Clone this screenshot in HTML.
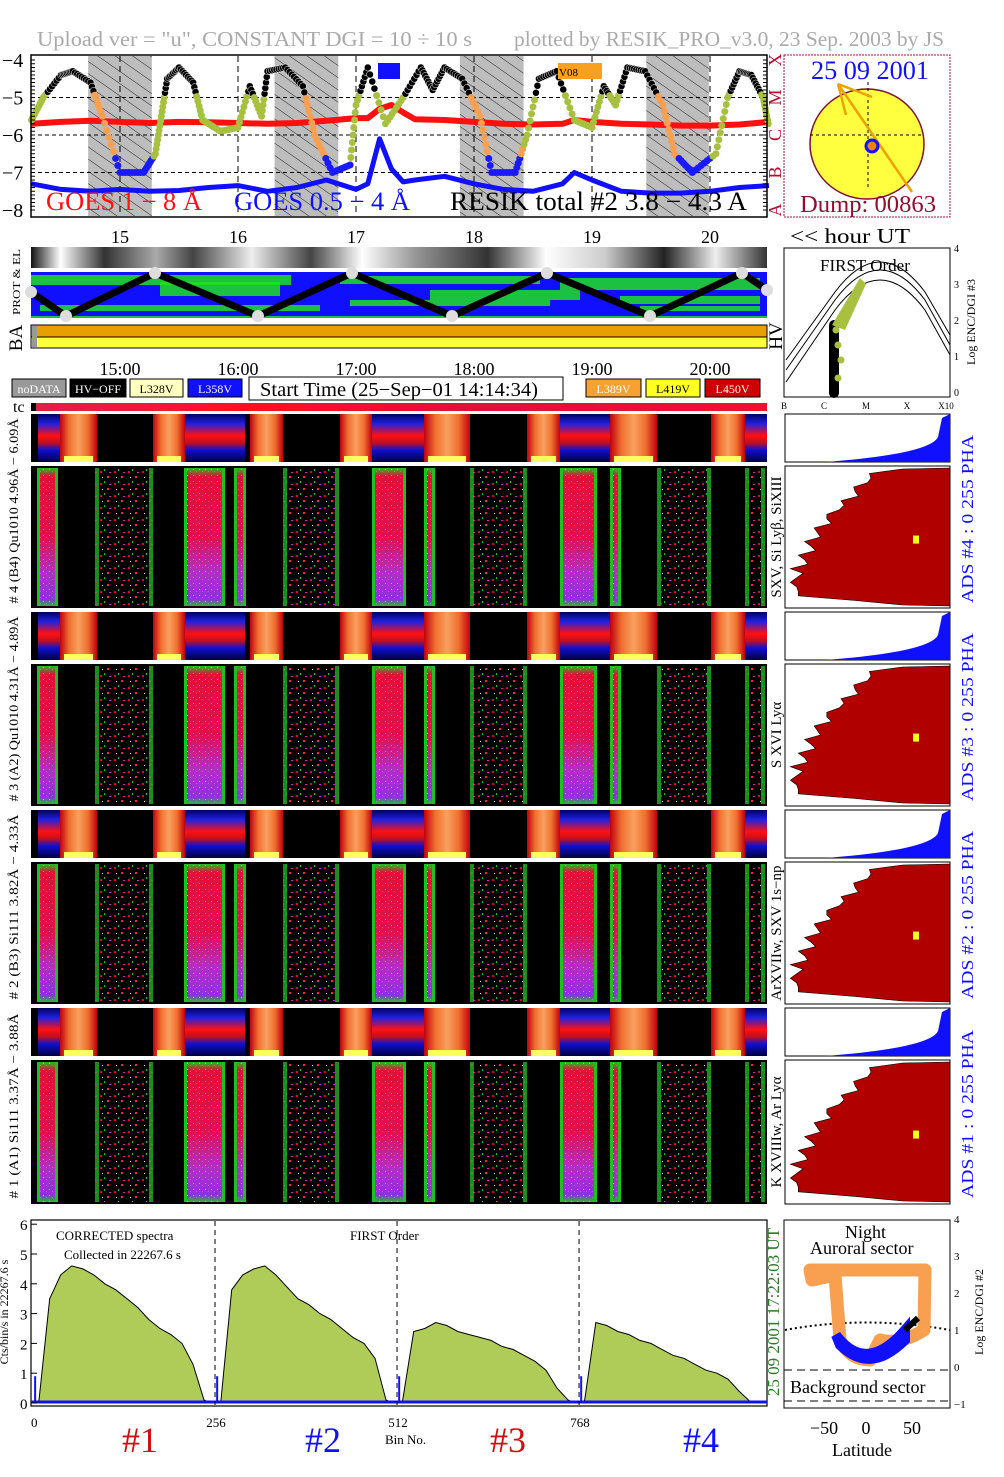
<!DOCTYPE html>
<html><head><meta charset="utf-8">
<style>
html,body{margin:0;padding:0;background:#fff;}
svg{display:block;font-family:"Liberation Serif",serif;}
</style></head>
<body>
<svg id="s" width="1004" height="1477" viewBox="0 0 1004 1477" xmlns="http://www.w3.org/2000/svg">
<defs>
<pattern id="hatch" width="10" height="10" patternUnits="userSpaceOnUse" patternTransform="rotate(-55)">
<rect width="10" height="10" fill="#bdbdbd"/><line x1="0" y1="0" x2="0" y2="10" stroke="#222" stroke-width="1"/></pattern>
<pattern id="sparse" width="14" height="12" patternUnits="userSpaceOnUse">
<rect width="14" height="12" fill="#000"/><rect x="2" y="3" width="2" height="2" fill="#e00030"/><rect x="9" y="8" width="2" height="2" fill="#ff2040"/><rect x="6" y="1" width="1" height="2" fill="#20c020"/><rect x="11" y="4" width="2" height="1" fill="#d020d0"/><rect x="4" y="9" width="1" height="1" fill="#fff"/></pattern>
<pattern id="dots" width="6" height="6" patternUnits="userSpaceOnUse">
<rect x="1" y="1" width="1" height="1" fill="#ff80ff"/><rect x="4" y="3" width="1" height="1" fill="#30ff30" opacity="0.5"/></pattern>
<linearGradient id="dense" x1="0" y1="0" x2="0" y2="1">
<stop offset="0" stop-color="#20c020"/><stop offset="0.06" stop-color="#e0103a"/><stop offset="0.5" stop-color="#e01050"/><stop offset="0.75" stop-color="#b030c0"/><stop offset="0.95" stop-color="#9030e0"/><stop offset="1" stop-color="#20c020"/></linearGradient>
<linearGradient id="orng" x1="0" y1="0" x2="1" y2="0">
<stop offset="0" stop-color="#c00010"/><stop offset="0.25" stop-color="#f07030"/><stop offset="0.5" stop-color="#f8a060"/><stop offset="0.75" stop-color="#f07030"/><stop offset="1" stop-color="#c00010"/></linearGradient>
<linearGradient id="rbg" x1="0" y1="0" x2="0" y2="1">
<stop offset="0" stop-color="#000060"/><stop offset="0.2" stop-color="#2020e0"/><stop offset="0.45" stop-color="#ff1010"/><stop offset="0.6" stop-color="#c01020"/><stop offset="0.75" stop-color="#1010d0"/><stop offset="1" stop-color="#000040"/></linearGradient>
<linearGradient id="grayband" x1="0" y1="0" x2="1" y2="0">
<stop offset="0" stop-color="#111"/><stop offset="0.04" stop-color="#fff"/><stop offset="0.1" stop-color="#333"/><stop offset="0.17" stop-color="#aaa"/><stop offset="0.22" stop-color="#444"/><stop offset="0.3" stop-color="#eee"/><stop offset="0.38" stop-color="#444"/><stop offset="0.45" stop-color="#fff"/><stop offset="0.52" stop-color="#999"/><stop offset="0.62" stop-color="#333"/><stop offset="0.7" stop-color="#fff"/><stop offset="0.78" stop-color="#ccc"/><stop offset="0.86" stop-color="#222"/><stop offset="0.93" stop-color="#eee"/><stop offset="1" stop-color="#333"/></linearGradient>
<linearGradient id="tcg" x1="0" y1="0" x2="1" y2="0">
<stop offset="0" stop-color="#e0204a"/><stop offset="0.3" stop-color="#ff1020"/><stop offset="0.6" stop-color="#e0103a"/><stop offset="1" stop-color="#f01030"/></linearGradient>
</defs>
<g id="root"></g>
</svg>
<script>
// ---- GOES data (log flux) ----
const goesTimes=[14.25,14.5,14.75,15,15.25,15.5,15.75,16,16.25,16.5,16.75,17,17.1,17.2,17.3,17.4,17.5,17.75,18,18.25,18.5,18.75,18.85,19,19.25,19.5,19.75,20,20.25,20.5];
const goesLong=[-5.7,-5.65,-5.62,-5.65,-5.68,-5.65,-5.66,-5.68,-5.7,-5.68,-5.62,-5.55,-5.55,-5.3,-5.2,-5.4,-5.58,-5.6,-5.65,-5.7,-5.72,-5.7,-5.6,-5.65,-5.7,-5.72,-5.75,-5.75,-5.72,-5.65];
const goesShort=[-7.3,-7.45,-7.5,-7.45,-7.5,-7.48,-7.4,-7.35,-7.5,-7.4,-7.2,-7.45,-7.3,-6.1,-6.9,-7.25,-7.2,-7.1,-7.3,-7.45,-7.5,-7.3,-7.0,-7.2,-7.5,-7.55,-7.55,-7.5,-7.4,-7.35];
const resikTimes=[14.25,14.35,14.5,14.6,14.75,14.85,15.0,15.2,15.3,15.35,15.4,15.5,15.62,15.7,15.85,16.0,16.1,16.2,16.25,16.4,16.55,16.65,16.8,16.95,17.0,17.1,17.25,17.4,17.55,17.65,17.75,17.9,18.05,18.15,18.35,18.45,18.55,18.7,18.85,19.0,19.1,19.2,19.3,19.45,19.6,19.7,19.85,20.05,20.15,20.25,20.35,20.45,20.5];
const resikVals=[-5.6,-5.0,-4.4,-4.3,-4.6,-5.5,-7.0,-7.0,-6.5,-5.5,-4.5,-4.2,-4.6,-5.6,-5.9,-5.8,-4.7,-5.5,-4.3,-4.2,-4.7,-6.0,-7.0,-6.8,-5.2,-4.2,-5.7,-5.0,-4.2,-4.8,-4.2,-4.5,-5.5,-7.0,-7.0,-6.0,-4.5,-4.3,-5.6,-5.8,-4.7,-5.2,-4.2,-4.3,-5.2,-6.5,-7.0,-6.5,-5.0,-4.3,-4.4,-5.0,-5.8];
const nightBands=[[14.73,15.27],[16.31,16.85],[17.88,18.42],[19.46,19.99]];
const hourTicks=[15,16,17,18,19,20];
const logTicks=[-4,-5,-6,-7,-8];
// ---- spectrum data (cts/bin/s), sampled every 16 bins per 256-bin segment ----
const specSeg1=[0,3.5,4.3,4.6,4.5,4.3,4.0,3.8,3.5,3.2,2.8,2.5,2.3,2.0,1.3,0.1];
const specSeg2=[0,3.8,4.3,4.5,4.6,4.3,3.9,3.5,3.3,3.0,2.8,2.5,2.2,2.0,1.5,0.1];
const specSeg3=[0.1,2.4,2.5,2.7,2.6,2.4,2.3,2.2,2.1,1.9,1.8,1.6,1.4,1.1,0.5,0.1];
const specSeg4=[0.1,2.7,2.6,2.4,2.3,2.1,2.0,1.8,1.6,1.5,1.3,1.1,1.0,0.8,0.4,0.05];
const specYTicks=[0,1,2,3,4,5,6];
const binTicks=[0,256,512,768];

const NS="http://www.w3.org/2000/svg";
const root=document.getElementById('root');
function el(tag,attrs,parent,text){const e=document.createElementNS(NS,tag);for(const k in attrs)e.setAttribute(k,attrs[k]);if(text!==undefined)e.textContent=text;(parent||root).appendChild(e);return e;}
function tx(x,y,t,size,fill,name,extra){const e=el('text',Object.assign({x:x,y:y,'font-size':size,fill:fill||'#000'},extra||{}),root,t);

return e;}
function txl(x,y,t,size,fill,name,len,extra){return tx(x,y,t,size,fill,name,Object.assign({textLength:len,lengthAdjust:'spacingAndGlyphs'},extra||{}));}
function rtx(x,y,t,size,fill,name,len){const ex={transform:`rotate(-90 ${x} ${y})`,'text-anchor':'middle'};if(len){ex.textLength=len;ex.lengthAdjust='spacingAndGlyphs';}return tx(x,y,t,size,fill,name,ex);}

const hx=h=>2+(h-14)*118;
const gy=v=>60+(-4-v)*37.5;

txl(37,46,'Upload ver = "u", CONSTANT  DGI =  10 ÷  10 s',21,'#aaa','title-left',435);
txl(514,46,'plotted by RESIK_PRO_v3.0, 23 Sep. 2003 by JS',21,'#aaa','title-right',430);

const gp=el('g',{});
el('rect',{x:31,y:55,width:736,height:162,fill:'#fff'},gp);
nightBands.forEach(b=>{const r=el('rect',{x:hx(b[0]),y:56,width:hx(b[1])-hx(b[0]),height:160,fill:'url(#hatch)'},gp);

});
[-5,-6,-7].forEach(v=>el('line',{x1:31,x2:767,y1:gy(v),y2:gy(v),stroke:'#000','stroke-dasharray':'4,3'},gp));
hourTicks.forEach(h=>el('line',{x1:hx(h),x2:hx(h),y1:56,y2:216,stroke:'#000','stroke-dasharray':'6,4'},gp));
function line(times,vals,color,w,name){const pts=times.map((t,i)=>hx(t).toFixed(1)+','+gy(vals[i]).toFixed(1)).join(' ');
const p=el('polyline',{points:pts,fill:'none',stroke:color,'stroke-width':w,'stroke-linejoin':'round'},gp);

}
line(goesTimes,goesLong,'#ff1010',6,'goes-long-line');
line(goesTimes,goesShort,'#1010ff',5,'goes-short-line');
function inNight(t){return nightBands.some(b=>t>=b[0]&&t<=b[1]);}
for(let i=0;i<resikTimes.length-1;i++){
 for(let k=0;k<8;k++){const f=k/8;const t=resikTimes[i]+(resikTimes[i+1]-resikTimes[i])*f;const v=resikVals[i]+(resikVals[i+1]-resikVals[i])*f;
 let c='#000';if(v<-6.6)c='#1a1aff';else if(v<-4.9)c=inNight(t)?'#f8a050':'#a8c040';
 const d=el('circle',{cx:hx(t),cy:gy(v),r:3.5,fill:c,stroke:c==='#000'?'#fff':'none','stroke-width':0.5},gp);
 
 }}
el('rect',{x:31,y:55,width:736,height:162,fill:'none',stroke:'#000','stroke-width':1.5},gp);
el('rect',{x:378,y:63,width:22,height:16,fill:'#1010ff'},gp);
el('rect',{x:558,y:63,width:44,height:16,fill:'#f8a020'},gp);
tx(559,76,'V08',11,'#000','v08-label');
logTicks.forEach(v=>tx(2,gy(v)+7,String(v).replace('-','−'),20,'#000','goes-ytick'));
for(let v=-4;v>=-8;v-=0.1){el('line',{x1:31,x2:35,y1:gy(v),y2:gy(v),stroke:'#000'},gp);el('line',{x1:763,x2:767,y1:gy(v),y2:gy(v),stroke:'#000'},gp);}
[['X',-4],['M',-5],['C',-6],['B',-7],['A',-8]].forEach(a=>rtx(781,gy(a[1]),a[0],18,'#b01030','flare-class-label'));
txl(46,210,'GOES 1 − 8 Å',26,'#ff1010','goes-long-legend',156);
txl(234,210,'GOES 0.5 − 4 Å',26,'#1010ff','goes-short-legend',176);
txl(450,210,'RESIK total #2  3.8 − 4.3 A',26,'#000','resik-legend',297);

el('rect',{x:784,y:55,width:166,height:162,fill:'#fff',stroke:'#a01040','stroke-dasharray':'2,1'});
el('ellipse',{cx:867,cy:144,rx:57,ry:55,fill:'#ffff40',stroke:'#801030','stroke-width':1.5});
el('line',{x1:810,x2:924,y1:135,y2:135,stroke:'#000','stroke-dasharray':'3,3'});
el('line',{x1:868,x2:868,y1:82,y2:190,stroke:'#000','stroke-dasharray':'3,3'});
el('line',{x1:838,x2:912,y1:84,y2:192,stroke:'#f0a000','stroke-width':2.5});
el('line',{x1:838,x2:872,y1:84,y2:97,stroke:'#f0a000','stroke-width':2.5});
el('line',{x1:838,x2:846,y1:84,y2:115,stroke:'#f0a000','stroke-width':2.5});
el('circle',{cx:872,cy:146,r:6,fill:'#f08000',stroke:'#1010ff','stroke-width':3});
txl(811,79,'25 09 2001',26,'#1010ff','date-label',118);
txl(800,212,'Dump: 00863',24,'#901030','dump-label',136);

hourTicks.forEach(h=>tx(hx(h),243,String(h),18,'#000','hour-tick',{'text-anchor':'middle'}));
txl(790,243,'<< hour UT',21,'#000','hour-ut-label',120);

el('rect',{x:31,y:247,width:736,height:21,fill:'url(#grayband)'});
el('rect',{x:31,y:272,width:736,height:46,fill:'#1010ff'});
[[31,275,260,10],[160,282,120,14],[340,276,200,8],[430,290,150,10],[560,278,200,12],[620,296,140,8],[40,305,280,6],[350,300,200,6],[640,306,120,5],[31,316,736,2]].forEach(g=>el('rect',{x:g[0],y:g[1],width:g[2],height:g[3],fill:'#20e020',opacity:0.85}));
const zz=[[31,292],[66,316],[155,273],[258,316],[352,273],[452,316],[547,273],[650,316],[742,273],[767,290]];
el('polyline',{points:zz.map(p=>p.join(',')).join(' '),fill:'none',stroke:'#000','stroke-width':7});
zz.forEach(p=>el('circle',{cx:p[0],cy:p[1],r:6,fill:'#ddd'}));
el('rect',{x:31,y:325,width:736,height:12,fill:'#e8a000',stroke:'#000'});
el('rect',{x:31,y:337,width:736,height:11,fill:'#ffff40',stroke:'#000'});
el('rect',{x:32,y:326,width:5,height:21,fill:'#999'});
rtx(20,282,'PROT  &  EL',11,'#000','prot-el-label',66);
rtx(22,338,'BA',19,'#000','ba-label');
rtx(782,336,'HV',19,'#000','hv-label');

el('rect',{x:784,y:248,width:166,height:149,fill:'#fff',stroke:'#000'});
el('path',{d:'M786,370 L835,300 Q880,240 925,300 L950,345',fill:'none',stroke:'#000'});
el('path',{d:'M786,360 L835,292 Q880,232 925,292 L950,335',fill:'none',stroke:'#000'});
el('path',{d:'M786,382 L835,310 Q880,250 925,310 L950,355',fill:'none',stroke:'#000'});
el('rect',{x:829,y:320,width:10,height:78,rx:5,fill:'#000'});
el('path',{d:'M832,325 L860,278 L866,284 L845,330 Z',fill:'#a8c040'});
[[836,330],[840,318],[838,345],[841,360],[838,378]].forEach(p=>el('circle',{cx:p[0],cy:p[1],r:3.5,fill:'#a8c040'}));
tx(820,271,'FIRST Order',17,'#000','first-order-label');
['0','1','2','3','4'].forEach((t,i)=>tx(954,396-i*36,t,10,'#000','enc-tick'));
rtx(975,322,'Log ENC/DGI #3',12,'#000','enc-dgi3-label');
[['B',784],['C',824],['M',866],['X',907],['X10',946]].forEach(a=>tx(a[1],409,a[0],9,'#000','class-tick',{'text-anchor':'middle'}));

hourTicks.forEach(h=>tx(hx(h),375,h+':00',18,'#000','time-tick',{'text-anchor':'middle'}));
[[12,66,'#999','#fff','noDATA'],[70,126,'#000','#fff','HV−OFF'],[130,183,'#ffffc0','#000','L328V'],[188,242,'#1010ff','#fff','L358V'],[586,641,'#f8a030','#fff','L389V'],[646,700,'#ffff20','#000','L419V'],[705,760,'#d00000','#fff','L450V']].forEach(l=>{
 const r=el('rect',{x:l[0],y:379,width:l[1]-l[0],height:18,fill:l[2],stroke:'#000'});
 
 
 tx((l[0]+l[1])/2,393,l[4],12,l[3],'legend-label',{'text-anchor':'middle'});});
el('rect',{x:249,y:377,width:314,height:23,fill:'#fff',stroke:'#000'});
txl(260,396,'Start Time (25−Sep−01 14:14:34)',20,'#000','start-time-label',278);
el('rect',{x:31,y:403,width:736,height:8,fill:'url(#tcg)'});
el('rect',{x:31,y:403,width:5,height:8,fill:'#000'});
tx(13,412,'tc',16,'#000','tc-label');

const phaCols=[[38,60,'rb'],[60,97,'o'],[153,185,'o'],[185,245,'rb'],[250,283,'o'],[340,372,'o'],[372,424,'rb'],[424,470,'o'],[527,560,'o'],[560,610,'rb'],[610,657,'o'],[711,745,'o'],[745,767,'rb']];
const specCols=[[37,58,'d'],[95,153,'s'],[184,225,'d'],[234,246,'d'],[283,339,'s'],[372,406,'d'],[424,435,'d'],[470,527,'s'],[560,597,'d'],[610,621,'d'],[657,711,'s'],[745,765,'s']];
const groups=[
 {pha:414,sp:466,end:608,left:'# 4 (B4) Qu1010 4.96Å − 6.09Å',right:'SXV, Si Lyβ, SiXIII',ads:'ADS #4 :   0 255   PHA'},
 {pha:612,sp:664,end:806,left:'# 3 (A2) Qu1010 4.31Å − 4.89Å',right:'S XVI Lyα',ads:'ADS #3 :   0 255   PHA'},
 {pha:810,sp:862,end:1004,left:'# 2 (B3) Si111 3.82Å − 4.33Å',right:'ArXVIIw, SXV 1s−np',ads:'ADS #2 :   0 255   PHA'},
 {pha:1008,sp:1060,end:1204,left:'# 1 (A1) Si111 3.37Å − 3.88Å',right:'K XVIIIw, Ar Lyα',ads:'ADS #1 :   0 255   PHA'}];
const histJag=[0.3,0.45,0.5,0.52,0.55,0.6,0.58,0.63,0.67,0.7,0.72,0.78,0.75,0.8,0.84,0.82,0.86,0.88,0.85,0.9,0.92,0.9,0.95,0.93,0.97,0.95,0.97,0.96,0.9,0.6,0.3];
groups.forEach((g,gi)=>{
 const ph=g.sp-g.pha-4;
 el('rect',{x:31,y:g.pha,width:736,height:ph,fill:'#000'});
 phaCols.forEach(c=>{
  if(c[2]==='o'){el('rect',{x:c[0],y:g.pha,width:c[1]-c[0],height:ph,fill:'url(#orng)'});el('rect',{x:c[0]+4,y:g.pha+ph-6,width:c[1]-c[0]-8,height:6,fill:'#ffff60'});}
  else el('rect',{x:c[0],y:g.pha,width:c[1]-c[0],height:ph,fill:'url(#rbg)'});});
 const sh=g.end-g.sp;
 el('rect',{x:31,y:g.sp,width:736,height:sh,fill:'#000'});
 specCols.forEach(c=>{
  if(c[2]==='d'){el('rect',{x:c[0],y:g.sp+2,width:c[1]-c[0],height:sh-4,fill:'url(#dense)'});el('rect',{x:c[0],y:g.sp+2,width:c[1]-c[0],height:sh-4,fill:'url(#dots)'});
   el('rect',{x:c[0],y:g.sp+2,width:3,height:sh-4,fill:'#20c020'});el('rect',{x:c[1]-3,y:g.sp+2,width:3,height:sh-4,fill:'#20c020'});}
  else{el('rect',{x:c[0],y:g.sp+2,width:c[1]-c[0],height:sh-4,fill:'url(#sparse)'});el('rect',{x:c[0],y:g.sp+2,width:4,height:sh-4,fill:'#20b020',opacity:0.8});el('rect',{x:c[1]-4,y:g.sp+2,width:4,height:sh-4,fill:'#20b020',opacity:0.8});}});
 rtx(18,(g.pha+g.end)/2,g.left,13,'#000','detector-label',185);
 rtx(781,(g.sp+g.end)/2,g.right,15,'#000','line-label');
 rtx(973,(g.pha+g.end)/2+8,g.ads,17,'#1010ff','ads-label',168);
 el('rect',{x:785,y:g.pha,width:165,height:ph,fill:'#fff',stroke:'#000'});
 el('path',{d:`M825,${g.pha+ph} Q930,${g.pha+ph-8} 938,${g.pha+ph-25} L942,${g.pha+4} L950,${g.pha} L950,${g.pha+ph} Z`,fill:'#1010ff'});
 el('rect',{x:785,y:g.sp,width:165,height:sh,fill:'#fff',stroke:'#000'});
 const pts=[];histJag.forEach((w,i)=>{const y=g.sp+3+i*(sh-6)/(histJag.length-1);const j=(i%3===1)?0.06:0;pts.push((950-(w+j)*158).toFixed(1)+','+y.toFixed(1));});
 el('polygon',{points:'950,'+(g.sp+2)+' '+pts.join(' ')+' 950,'+(g.end-2),fill:'#b00000',stroke:'#000','stroke-width':0.6});
 el('rect',{x:913,y:g.sp+(sh*0.49),width:6,height:8,fill:'#ffff20'});
});

const bx=b=>33+b*0.711;
const by=v=>1403-v*29.8;
el('rect',{x:31,y:1220,width:736,height:186,fill:'#fff',stroke:'#000','stroke-width':1.2});
[specSeg1,specSeg2,specSeg3,specSeg4].forEach((seg,si)=>{
 const base=si*256;
 const pts=seg.map((v,i)=>bx(base+8+i*15.5).toFixed(1)+','+by(v).toFixed(1));
 const p=el('polygon',{points:bx(base+6)+','+by(0)+' '+pts.join(' ')+' '+bx(base+250)+','+by(0),fill:'#b0cc58',stroke:'#000','stroke-width':1});
 
 
 el('line',{x1:bx(base+3),x2:bx(base+3),y1:by(0),y2:by(0.9),stroke:'#1010ff','stroke-width':2});
});
el('line',{x1:31,x2:767,y1:by(0)-1,y2:by(0)-1,stroke:'#1010ff','stroke-width':3});
binTicks.slice(1).forEach(b=>el('line',{x1:bx(b),x2:bx(b),y1:1221,y2:1405,stroke:'#000','stroke-dasharray':'5,4'}));
specYTicks.forEach(v=>{tx(20,by(v)+6,String(v),15,'#000','spec-ytick');el('line',{x1:31,x2:37,y1:by(v),y2:by(v),stroke:'#000'});});
binTicks.forEach(b=>tx(bx(b)-(b?-1:2),1427,String(b),13,'#000','bin-tick',{'text-anchor':b?'middle':'start'}));
tx(385,1444,'Bin No.',13,'#000','bin-axis-title');
tx(56,1240,'CORRECTED spectra',13,'#000','corrected-label');
tx(64,1259,'Collected in 22267.6 s',13,'#000','collected-label');
tx(350,1240,'FIRST Order',13,'#000','first-order-spec-label');
rtx(8,1312,'Cts/bin/s in 22267.6 s',12,'#000','spec-y-title');
rtx(779,1312,'25 09 2001      17:22:03 UT',17,'#2a7a2a','timestamp-label');
[['#1',122,'#d01010'],['#2',305,'#1010ff'],['#3',490,'#d01010'],['#4',683,'#1010ff']].forEach(a=>tx(a[1],1452,a[0],36,a[2],'detector-number'));

el('rect',{x:784,y:1220,width:166,height:188,fill:'#fff',stroke:'#000'});
el('line',{x1:784,x2:950,y1:1370,y2:1370,stroke:'#000','stroke-dasharray':'8,5'});
el('line',{x1:784,x2:950,y1:1401,y2:1401,stroke:'#000','stroke-dasharray':'8,5'});
el('path',{d:'M785,1330 Q866,1315 950,1330',fill:'none',stroke:'#000','stroke-dasharray':'2,3','stroke-width':2});
el('path',{d:'M810,1270 L925,1270 L924,1330 Q900,1345 880,1340 L870,1360 Q850,1360 840,1340 L835,1275 L812,1280 Z',fill:'none',stroke:'#f8a050','stroke-width':13,'stroke-linejoin':'round'});
el('path',{d:'M836,1335 Q866,1375 905,1330 L905,1340 Q870,1375 840,1345 Z',fill:'#1010ff',stroke:'#1010ff','stroke-width':10});
el('path',{d:'M905,1330 L918,1318',stroke:'#000','stroke-width':6});
tx(845,1238,'Night',18,'#000','night-label');
tx(810,1254,'Auroral sector',18,'#000','auroral-label');
tx(790,1393,'Background sector',18,'#000','background-label');
[['−50',824],['0',866],['50',912]].forEach(a=>tx(a[1],1434,a[0],18,'#000','lat-tick',{'text-anchor':'middle'}));
tx(832,1456,'Latitude',18,'#000','lat-axis-title');
['−1','0','1','2','3','4'].forEach((t,i)=>tx(954,1408-i*37,t,11,'#000','enc2-tick'));
rtx(983,1312,'Log ENC/DGI #2',12,'#000','enc-dgi2-label');
</script>
</body></html>
